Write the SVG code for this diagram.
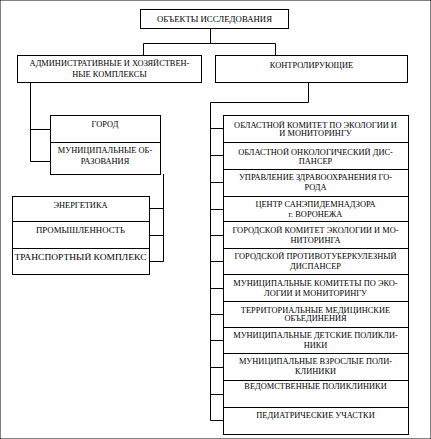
<svg xmlns="http://www.w3.org/2000/svg" width="431" height="439" viewBox="0 0 431 439">
<style>
rect{fill:#fff;stroke:#000;stroke-width:1}
.d{stroke:#000;stroke-width:1;fill:none}
text{font-family:"Liberation Serif","Times New Roman",serif;font-size:8.4px;fill:#000;text-anchor:middle}
</style>
<rect width="431" height="439" fill="#fff" stroke="none"/>
<g id="connectors" class="d">
<path d="M210.5 28V43.5M143.5 43.5H275.5M143.5 43.5V55M275.5 43.5V55"/>
<path d="M30.5 82V161.5M30.5 129.5H50M30.5 161.5H50"/>
<path d="M163.5 174V261.5M149 208.5H163.5M149 235.5H163.5M149 261.5H163.5"/>
<path d="M308.5 82V102.5H210.5V420.5"/>
<path d="M210.5 128.5H223M210.5 155.5H223M210.5 182.5H223M210.5 209.5H223M210.5 235.5H223M210.5 261.5H223M210.5 288.5H223M210.5 314.5H223M210.5 340.5H223M210.5 367.5H223M210.5 394.5H223M210.5 420.5H223"/>
</g>
<g id="root"><rect x="140.5" y="9.5" width="148" height="19"/><text x="214.5" y="21.7" textLength="115" lengthAdjust="spacingAndGlyphs">ОБЪЕКТЫ  ИССЛЕДОВАНИЯ</text></g>
<g id="admin"><rect x="17.5" y="55.5" width="184" height="27"/><text x="109.5" y="66">АДМИНИСТРАТИВНЫЕ И ХОЗЯЙСТВЕН-</text><text x="109.5" y="76.7">НЫЕ КОМПЛЕКСЫ</text></g>
<g id="control"><rect x="215.5" y="55.5" width="192" height="27"/><text x="311.5" y="67.7">КОНТРОЛИРУЮЩИЕ</text></g>
<g id="city">
<rect x="50.5" y="115.5" width="110" height="27"/><text x="105" y="126.7">ГОРОД</text>
<rect x="50.5" y="142.5" width="110" height="32"/><text x="105" y="152.6">МУНИЦИПАЛЬНЫЕ ОБ-</text><text x="105" y="164.3">РАЗОВАНИЯ</text>
</g>
<g id="sectors">
<rect x="12.5" y="196.5" width="137" height="25"/><text x="80.5" y="207.6">ЭНЕРГЕТИКА</text>
<rect x="12.5" y="221.5" width="137" height="27"/><text x="80.5" y="233.3" textLength="89" lengthAdjust="spacingAndGlyphs">ПРОМЫШЛЕННОСТЬ</text>
<rect x="12.5" y="248.5" width="137" height="26"/><text x="80.5" y="260" textLength="132" lengthAdjust="spacingAndGlyphs">ТРАНСПОРТНЫЙ КОМПЛЕКС</text>
</g>
<g id="r1"><rect x="223.5" y="115.5" width="185" height="27"/><text x="315.5" y="127.5">ОБЛАСТНОЙ КОМИТЕТ ПО ЭКОЛОГИИ И</text><text x="315.5" y="136">И МОНИТОРИНГУ</text></g>
<g id="r2"><rect x="223.5" y="142.5" width="185" height="27"/><text x="315.5" y="155">ОБЛАСТНОЙ ОНКОЛОГИЧЕСКИЙ ДИС-</text><text x="315.5" y="163.7">ПАНСЕР</text></g>
<g id="r3"><rect x="223.5" y="169.5" width="185" height="27"/><text x="315.5" y="180">УПРАВЛЕНИЕ ЗДРАВООХРАНЕНИЯ ГО-</text><text x="315.5" y="190">РОДА</text></g>
<g id="r4"><rect x="223.5" y="196.5" width="185" height="25"/><text x="315.5" y="206.7">ЦЕНТР САНЭПИДЕМНАДЗОРА</text><text x="315.5" y="216.7">г. ВОРОНЕЖА</text></g>
<g id="r5"><rect x="223.5" y="221.5" width="185" height="27"/><text x="315.5" y="232.7">ГОРОДСКОЙ КОМИТЕТ ЭКОЛОГИИ И МО-</text><text x="315.5" y="242.7">НИТОРИНГА</text></g>
<g id="r6"><rect x="223.5" y="248.5" width="185" height="26"/><text x="315.5" y="259.4">ГОРОДСКОЙ ПРОТИВОТУБЕРКУЛЕЗНЫЙ</text><text x="315.5" y="268.7">ДИСПАНСЕР</text></g>
<g id="r7"><rect x="223.5" y="274.5" width="185" height="27"/><text x="315.5" y="286">МУНИЦИПАЛЬНЫЕ КОМИТЕТЫ ПО ЭКО-</text><text x="315.5" y="296">ЛОГИИ И МОНИТОРИНГУ</text></g>
<g id="r8"><rect x="223.5" y="301.5" width="185" height="26"/><text x="315.5" y="312.7">ТЕРРИТОРИАЛЬНЫЕ МЕДИЦИНСКИЕ</text><text x="315.5" y="321">ОБЪЕДИНЕНИЯ</text></g>
<g id="r9"><rect x="223.5" y="327.5" width="185" height="26"/><text x="315.5" y="338.4">МУНИЦИПАЛЬНЫЕ ДЕТСКИЕ ПОЛИКЛИ-</text><text x="315.5" y="347.7">НИКИ</text></g>
<g id="r10"><rect x="223.5" y="353.5" width="185" height="27"/><text x="315.5" y="364.4">МУНИЦИПАЛЬНЫЕ ВЗРОСЛЫЕ ПОЛИ-</text><text x="315.5" y="374.4">КЛИНИКИ</text></g>
<g id="r11"><rect x="223.5" y="380.5" width="185" height="27"/><text x="315.5" y="389.4">ВЕДОМСТВЕННЫЕ ПОЛИКЛИНИКИ</text></g>
<g id="r12"><rect x="223.5" y="407.5" width="185" height="27"/><text x="315.5" y="417.7">ПЕДИАТРИЧЕСКИЕ УЧАСТКИ</text></g>
</svg>
